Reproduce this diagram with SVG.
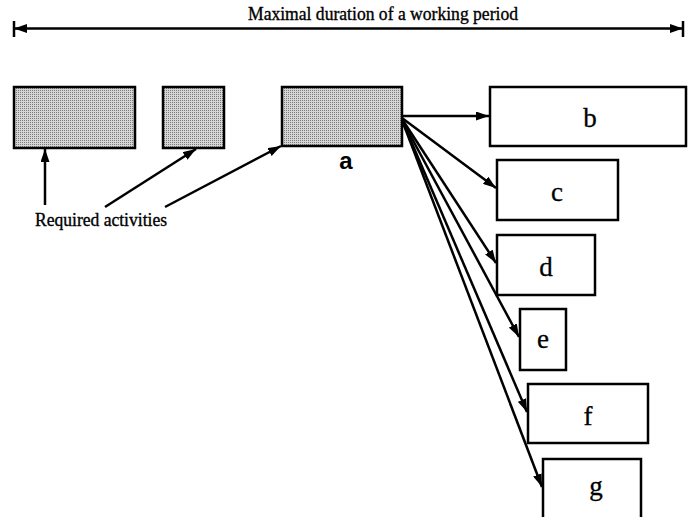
<svg xmlns="http://www.w3.org/2000/svg" width="689" height="517" viewBox="0 0 689 517">
<style>
.box{fill:#fff;stroke:#000;stroke-width:2.5}
.sh{fill:url(#dots);stroke:#000;stroke-width:2.5}
.ln{fill:none;stroke:#000;stroke-width:2.5}
.lbl{font-family:"Liberation Serif","Times New Roman",serif;font-size:27px;text-anchor:middle;fill:#000;stroke:#000;stroke-width:0.3}
.cap{font-family:"Liberation Serif","Times New Roman",serif;font-size:18px;fill:#000;stroke:#000;stroke-width:0.35}
</style>
<defs>
<pattern id="dots" width="2" height="2" patternUnits="userSpaceOnUse">
<rect width="2" height="2" fill="#d6d6d6"/>
<rect width="1" height="1" fill="#7a7a7a"/>
</pattern>
<marker id="ah" viewBox="0 0 13 9" refX="13" refY="4.5" markerWidth="13" markerHeight="9" markerUnits="userSpaceOnUse" orient="auto-start-reverse">
<path d="M0,0 L13,4.5 L0,9 Z" fill="#000"/>
</marker>
</defs>
<g id="period">
<text class="cap" x="383" y="20" text-anchor="middle" textLength="270" lengthAdjust="spacingAndGlyphs">Maximal duration of a working period</text>
<line class="ln" x1="14" y1="28.5" x2="683" y2="28.5" marker-start="url(#ah)" marker-end="url(#ah)"/>
<line class="ln" x1="14" y1="21" x2="14" y2="37"/>
<line class="ln" x1="683" y1="21" x2="683" y2="37"/>
</g>
<g id="req1"><rect class="sh" x="14" y="87" width="121" height="61"/></g>
<g id="req2"><rect class="sh" x="163" y="87" width="61" height="61"/></g>
<g id="a"><rect class="sh" x="282" y="87" width="120" height="59"/>
<text x="346" y="169" font-family="Liberation Sans,Arial,sans-serif" font-weight="bold" font-size="24" text-anchor="middle">a</text></g>
<g id="b"><rect class="box" x="490" y="87" width="196" height="59"/><text class="lbl" x="590" y="127">b</text></g>
<g id="c"><rect class="box" x="497" y="160" width="121" height="60"/><text class="lbl" x="557" y="201">c</text></g>
<g id="d"><rect class="box" x="497" y="235" width="98" height="60"/><text class="lbl" x="546" y="276">d</text></g>
<g id="e"><rect class="box" x="520" y="309" width="46" height="61"/><text class="lbl" x="543" y="348">e</text></g>
<g id="f"><rect class="box" x="528" y="384" width="120" height="59"/><text class="lbl" x="588" y="425">f</text></g>
<g id="g"><rect class="box" x="543" y="459" width="98" height="62"/><text class="lbl" x="596" y="495">g</text></g>
<g id="required"><text class="cap" x="35" y="226" textLength="132" lengthAdjust="spacingAndGlyphs">Required activities</text></g>
<g id="connectors">
<line class="ln" x1="45" y1="205" x2="45" y2="149" marker-end="url(#ah)"/>
<line class="ln" x1="105" y1="207" x2="196" y2="149" marker-end="url(#ah)"/>
<line class="ln" x1="165" y1="207" x2="281" y2="146" marker-end="url(#ah)"/>
<line class="ln" x1="402" y1="116" x2="489" y2="116" marker-end="url(#ah)"/>
<line class="ln" x1="402" y1="118" x2="496" y2="188" marker-end="url(#ah)"/>
<line class="ln" x1="402" y1="119" x2="496" y2="263" marker-end="url(#ah)"/>
<line class="ln" x1="402" y1="120" x2="519" y2="337" marker-end="url(#ah)"/>
<line class="ln" x1="402" y1="120" x2="527" y2="412" marker-end="url(#ah)"/>
<line class="ln" x1="402" y1="120" x2="542" y2="487" marker-end="url(#ah)"/>
</g>
</svg>
